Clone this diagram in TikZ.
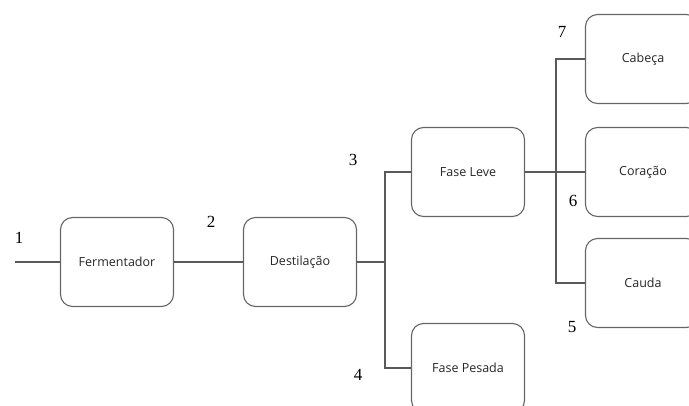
\documentclass[tikz,border=0pt]{standalone}
\usepackage{fontspec}
\setmainfont{Liberation Serif}
\newfontfamily\boxfont{Open Sans}
\begin{document}
\begin{tikzpicture}[x=1pt,y=-1pt,
  proc/.style={draw=black!60, line width=1.1pt, rounded corners=12pt, minimum width=113pt, minimum height=89pt, font=\boxfont\fontsize{12.5}{14}\selectfont, text=black!85, inner sep=0pt},
  conn/.style={draw=black!65, line width=1.1pt},
  num/.style={font=\fontsize{17}{18}\selectfont, inner sep=0pt}]
\useasboundingbox (0,0) rectangle (689,405);
\clip (0,0) rectangle (689,405);
\node[proc] (ferm) at (117,262) {Fermentador};
\node[proc] (dest) at (300,262) {Destilação};
\node[proc] (leve) at (468,172) {Fase Leve};
\node[proc] (pes) at (468,368) {Fase Pesada};
\node[proc] (cab) at (642,59) {\hspace*{2pt}Cabeça};
\node[proc] (cor) at (642,172) {\hspace*{2pt}Coração};
\node[proc] (cau) at (642,283) {\hspace*{2pt}Cauda};
\coordinate (in) at (15,262);
\coordinate (b1) at (385,262);
\coordinate (b2) at (556,172);
\draw[conn] (in) -- (ferm.west);
\draw[conn] (ferm.east) -- (dest.west);
\draw[conn] (dest.east) -- (b1);
\draw[conn] (b1) |- (leve.west);
\draw[conn] (b1) |- (pes.west);
\draw[conn] (leve.east) -- (cor.west);
\draw[conn] (b2) |- (cab.west);
\draw[conn] (b2) |- (cau.west);
\node[num] (n1) at (19,238) {1};
\node[num] (n2) at (211,222) {2};
\node[num] (n3) at (353,160) {3};
\node[num] (n4) at (358,375) {4};
\node[num] (n5) at (572,327) {5};
\node[num] (n6) at (573,201) {6};
\node[num] (n7) at (562,32) {7};
\end{tikzpicture}
\end{document}
